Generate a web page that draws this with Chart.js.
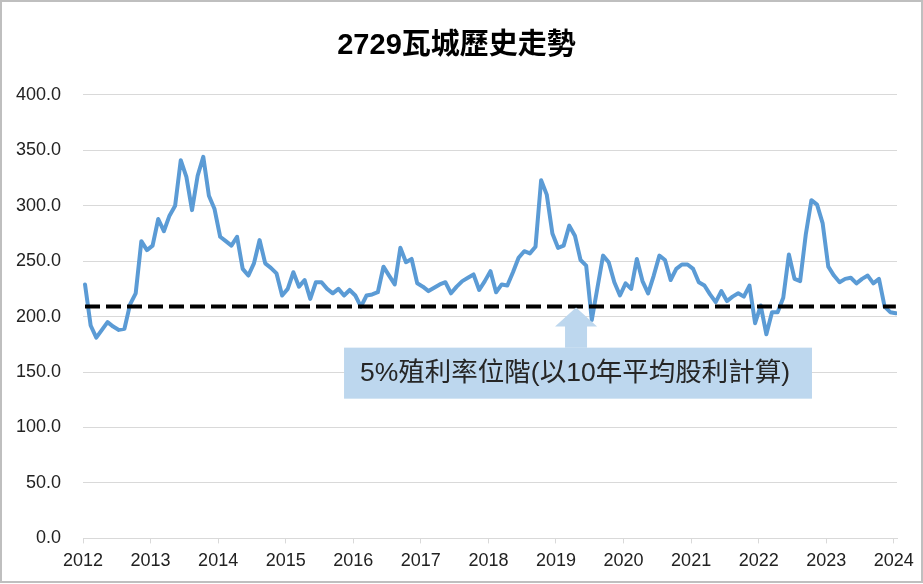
<!DOCTYPE html>
<html>
<head>
<meta charset="utf-8">
<script src="https://cdn.jsdelivr.net/npm/chart.js@4"></script>
<style>
  html, body { margin: 0; padding: 0; background: #fff; }
</style>
</head>
<body>
<canvas id="priceChart" width="923" height="584"></canvas>
<script>
// year labels on the x axis
const years = ['2012', '2013', '2014', '2015', '2016', '2017', '2018', '2019', '2020', '2021', '2022', '2023', '2024'];

// monthly price, Jan 2012 .. Jan 2024
const prices = [
    229, 192, 181, 188, 195, 191, 188, 189, 211, 221, 268, 260,
    264, 288, 277, 291, 300, 341, 326, 296, 327, 344, 309, 297,
    272, 268, 264, 272, 243, 237, 248, 269, 248, 244, 239, 219,
    225, 240, 227, 233, 216, 231, 231, 225, 221, 225, 219, 224,
    219, 209, 219, 220, 222, 245, 237, 229, 262, 249, 252, 230,
    227, 223, 226, 229, 231, 221, 227, 232, 235, 238, 224, 232,
    241, 222, 229, 228, 240, 253, 259, 257, 263, 323, 310, 275,
    262, 264, 282, 273, 251, 246, 197, 226, 255, 249, 231, 219,
    230, 225, 252, 232, 221, 237, 255, 251, 233, 243, 247, 247,
    243, 231, 228, 220, 213, 223, 214, 218, 221, 218, 228, 194,
    210, 184, 204, 204, 217, 256, 234, 232, 274, 305, 301, 284,
    245, 237, 231, 234, 235, 230, 234, 237, 230, 234, 209, 204,
    203
];

// 5% yield price level (10-year average dividend)
const yieldLevel = 209;
const noteText = '5%殖利率位階(以10年平均股利計算)';

// where the note box / arrow sit, in axis units
const noteBox = { x0: 46, x1: 129.1, yTop: 172, yBottom: 126 };
const arrowAt = 87.2;

const tickShift = -0.36;
const lightBlue = '#BDD7EE';

const chartFrame = {
    id: 'chartFrame',
    beforeDraw(chart) {
        const ctx = chart.ctx;
        ctx.save();
        ctx.fillStyle = '#fff';
        ctx.fillRect(0, 0, chart.width, chart.height);
        ctx.strokeStyle = '#BFBFBF';
        ctx.lineWidth = 2;
        ctx.strokeRect(1, 1, chart.width - 2, chart.height - 3);
        ctx.restore();
    }
};

const yieldNote = {
    id: 'yieldNote',
    afterDatasetsDraw(chart) {
        const ctx = chart.ctx;
        const xs = chart.scales.x, ys = chart.scales.y;
        const left = xs.getPixelForValue(noteBox.x0);
        const right = xs.getPixelForValue(noteBox.x1);
        const top = ys.getPixelForValue(noteBox.yTop);
        const bottom = ys.getPixelForValue(noteBox.yBottom);
        const tipX = xs.getPixelForValue(arrowAt);
        const tipY = ys.getPixelForValue(yieldLevel) + 1;
        ctx.save();
        ctx.fillStyle = lightBlue;
        // arrow
        ctx.beginPath();
        ctx.moveTo(tipX, tipY);
        ctx.lineTo(tipX + 21, tipY + 19);
        ctx.lineTo(tipX + 11, tipY + 19);
        ctx.lineTo(tipX + 11, top);
        ctx.lineTo(tipX - 11, top);
        ctx.lineTo(tipX - 11, tipY + 19);
        ctx.lineTo(tipX - 21, tipY + 19);
        ctx.closePath();
        ctx.fill();
        // box
        ctx.fillRect(left, top, right - left, bottom - top);
        ctx.fillStyle = '#262626';
        ctx.font = "26.5px 'Liberation Sans', 'Noto Sans CJK TC'";
        ctx.textBaseline = 'middle';
        ctx.textAlign = 'left';
        ctx.fillText(noteText, left + 16, (top + bottom) / 2 + 1);
        ctx.restore();
    }
};

new Chart(document.getElementById('priceChart'), {
    type: 'line',
    data: {
        datasets: [{
            label: '股價',
            data: prices.map((v, i) => ({ x: i, y: v })),
            borderColor: '#5B9BD5',
            borderWidth: 4,
            borderJoinStyle: 'round',
            borderCapStyle: 'round',
            pointRadius: 0,
            tension: 0,
            order: 1
        }, {
            label: '5%殖利率',
            data: [{ x: 0, y: yieldLevel }, { x: prices.length - 1, y: yieldLevel }],
            borderColor: '#000',
            borderWidth: 4,
            borderDash: [15, 6],
            pointRadius: 0,
            order: 0
        }]
    },
    options: {
        responsive: false,
        animation: false,
        devicePixelRatio: 1,
        layout: { padding: { left: 16, right: 26, top: 0, bottom: 5 } },
        plugins: {
            legend: { display: false },
            tooltip: { enabled: false },
            title: {
                display: true,
                text: '2729瓦城歷史走勢',
                color: '#000',
                font: { family: "'Liberation Sans', 'Noto Sans CJK TC'", size: 29, weight: 'bold' },
                padding: { top: 29, bottom: 31 }
            }
        },
        scales: {
            x: {
                type: 'linear',
                min: tickShift,
                max: 144.2,
                afterBuildTicks(scale) {
                    scale.ticks = years.map((y, k) => ({ value: 12 * k + tickShift }));
                },
                ticks: {
                    autoSkip: false,
                    maxRotation: 0,
                    padding: 7,
                    color: '#222',
                    font: { family: "'Liberation Sans'", size: 18 },
                    callback: (v, i) => years[i]
                },
                grid: { drawOnChartArea: false, drawTicks: true, tickLength: 5, color: '#D9D9D9' },
                border: { display: true, color: '#D9D9D9', width: 1 }
            },
            y: {
                min: 0,
                max: 400,
                afterFit(scale) { scale.width = 67; },
                ticks: {
                    stepSize: 50,
                    padding: 22,
                    color: '#222',
                    font: { family: "'Liberation Sans'", size: 18 },
                    callback: v => v.toFixed(1)
                },
                grid: { color: '#D9D9D9', drawTicks: false },
                border: { display: false }
            }
        }
    },
    plugins: [chartFrame, yieldNote]
});
</script>
</body>
</html>
